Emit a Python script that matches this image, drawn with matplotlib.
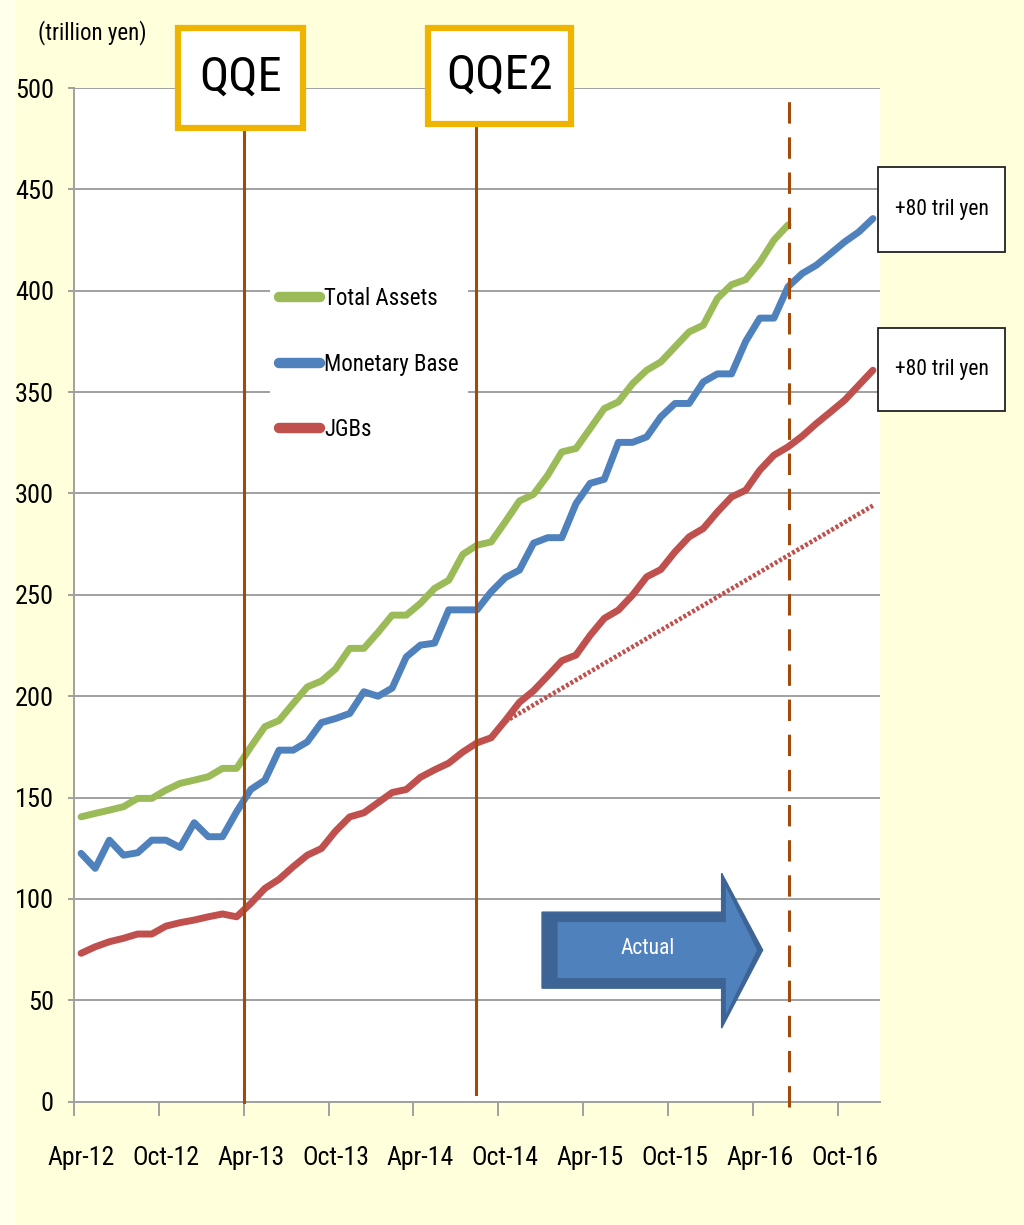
import matplotlib
matplotlib.use("Agg")
import matplotlib.pyplot as plt
from matplotlib.patches import Rectangle, Polygon
import numpy as np

plt.rcParams["font.family"] = ["Roboto Condensed", "Liberation Sans Narrow",
                               "Liberation Sans", "DejaVu Sans"]

# Monthly balances (trillion yen); index 0 = Apr-12, one value per month
total_assets = [
    140.5, 142.2, 143.8, 145.5, 149.6, 149.6, 153.7, 157.0, 158.6, 160.3,
    164.4, 164.4, 175.0, 185.0, 188.0, 196.4, 204.6, 207.5, 213.5, 223.6,
    223.6, 231.5, 240.0, 240.0, 245.8, 253.2, 257.2, 270.0, 274.5, 276.1,
    286.0, 296.3, 299.6, 309.0, 320.5, 322.2, 332.0, 341.9, 345.2, 354.2,
    360.8, 364.9, 372.3, 379.7, 383.0, 396.2, 403.0, 405.5, 414.0, 425.0,
    432.5,
]
monetary_base = [
    122.5, 115.1, 129.0, 121.6, 122.8, 129.0, 129.0, 125.4, 137.6, 130.7,
    130.7, 143.0, 154.0, 158.6, 173.4, 173.4, 177.5, 187.0, 189.0, 191.5,
    202.2, 200.0, 204.0, 219.4, 225.2, 226.2, 242.6, 242.6, 242.6, 251.5,
    258.5, 262.2, 275.5, 278.2, 278.2, 295.0, 305.0, 307.0, 325.2, 325.2,
    327.9, 337.8, 344.4, 344.4, 355.0, 359.0, 359.0, 375.0, 386.5, 386.5,
    402.0, 408.5, 412.6, 418.3, 424.1, 429.0, 435.6,
]
jgbs = [
    73.2, 76.4, 78.9, 80.6, 82.7, 82.7, 86.6, 88.3, 89.6, 91.2,
    92.6, 91.2, 97.8, 105.2, 109.7, 115.9, 121.6, 124.9, 133.5, 140.5,
    142.5, 147.5, 152.5, 154.0, 160.0, 163.7, 167.0, 172.5, 177.0, 179.5,
    188.0, 197.0, 202.7, 210.0, 217.5, 220.3, 230.0, 238.4, 242.5, 249.9,
    258.9, 262.5, 271.2, 278.6, 282.7, 290.9, 298.3, 301.6, 311.5, 318.9,
    323.0, 328.3, 334.5, 340.2, 346.0, 353.4, 360.8,
]
# JGB holdings at the earlier (pre-Oct-14) pace: start and end month index
jgb_prior_pace_idx = [30, 56]
jgb_prior_pace = [187.5, 294.0]

tick_labels = ["Apr-12", "Oct-12", "Apr-13", "Oct-13", "Apr-14",
               "Oct-14", "Apr-15", "Oct-15", "Apr-16", "Oct-16"]
series_names = ["Total Assets", "Monetary Base", "JGBs"]

# Event markers on the month axis (0 = start of Apr-12)
qqe_month = 12.0
qqe2_month = 28.45
actual_end_month = 50.58

GREEN, BLUE, RED = "#9BBB59", "#4F81BD", "#C0504D"
EVENT = "#A24A08"
GRID = "#A0A0A0"
BG = "#FFFFDC"

W, H = 1024, 1225
fig = plt.figure(figsize=(W / 100, H / 100), dpi=100, facecolor=BG)


def fbox(x0, y0, x1, y1):
    """Pixel box (top-left origin) -> figure-fraction (x, y, w, h)."""
    return x0 / W, 1 - y1 / H, (x1 - x0) / W, (y1 - y0) / H


# lighter strip along the left edge of the slide
fig.patches.append(Rectangle((0, 0), 15 / W, 1, transform=fig.transFigure,
                             facecolor="#FFFFEC", edgecolor="none", zorder=0))

ax = fig.add_axes(fbox(74, 88, 880, 1101.7))
ax.set_facecolor("white")
ax.set_xlim(0, 57)
ax.set_ylim(0, 500)

# series are plotted at the centre of each month
x_ta = np.arange(len(total_assets)) + 0.5
x_mb = np.arange(len(monetary_base)) + 0.5
x_jg = np.arange(len(jgbs)) + 0.5

ax.plot(np.array(jgb_prior_pace_idx) + 0.5, jgb_prior_pace, color=RED, lw=3.3,
        dashes=(0.65, 0.45), dash_capstyle="butt", zorder=2.5)
line_kw = dict(lw=5.0, solid_joinstyle="round", solid_capstyle="round", zorder=3)
ax.plot(x_ta, total_assets, color=GREEN, label=series_names[0], **line_kw)
ax.plot(x_mb, monetary_base, color=BLUE, label=series_names[1], **line_kw)
ax.plot(x_jg, jgbs, color=RED, label=series_names[2], **line_kw)

# policy event lines
ax.plot([qqe_month, qqe_month], [0, 478.5], color=EVENT, lw=2.2, zorder=4,
        clip_on=False)
ax.plot([qqe2_month, qqe2_month], [4, 480.5], color=EVENT, lw=2.2, zorder=4,
        clip_on=False)
ax.plot([actual_end_month, actual_end_month], [-2.5, 497], color=EVENT, lw=2.2,
        dashes=(7, 4.5), zorder=4, clip_on=False)

# axes styling
ax.set_yticks(np.arange(0, 501, 50))
ax.yaxis.grid(True, color=GRID, lw=1.4)
ax.set_axisbelow(True)
for side in ("top", "right"):
    ax.spines[side].set_visible(False)
for side in ("left", "bottom"):
    ax.spines[side].set_color(GRID)
    ax.spines[side].set_linewidth(1.4)
ax.tick_params(axis="y", length=4.5, width=1.4, color=GRID, pad=10,
               labelsize=19)
ax.set_xticks(np.arange(0, 55, 6))
ax.set_xticks(np.arange(0, 55, 6) + 0.5, minor=True)
ax.set_xticklabels(tick_labels, minor=True)
ax.tick_params(axis="x", which="major", length=10, width=1.4, color=GRID,
               labelbottom=False)
ax.tick_params(axis="x", which="minor", length=0, pad=32, labelsize=18.5)

# legend
leg = ax.legend(loc="upper left", bbox_to_anchor=(0.243, 0.8125),
                fontsize=16.5, frameon=True, facecolor="white",
                edgecolor="none", framealpha=1, fancybox=False,
                handlelength=1.8, handletextpad=0.18, labelspacing=1.85,
                borderpad=0.4, borderaxespad=0)
for h in leg.get_lines():
    h.set_linewidth(7.5)
    h.set_solid_capstyle("round")

# "Actual" block arrow
outer = [(33.1, 93.5), (45.8, 93.5), (45.8, 112.7), (48.7, 74.8),
         (45.8, 36.3), (45.8, 56.0), (33.1, 56.0)]
inner = [(34.2, 88.6), (46.1, 88.6), (46.1, 106.0), (48.3, 74.8),
         (46.1, 43.0), (46.1, 61.0), (34.2, 61.0)]
ax.add_patch(Polygon(outer, closed=True, facecolor="#3D6494",
                     edgecolor="#3D6494", lw=1, zorder=5))
ax.add_patch(Polygon(inner, closed=True, facecolor="#4F81BD",
                     edgecolor="none", zorder=5.1))
ax.text(40.6, 75.8, "Actual", color="white", fontsize=15.5, ha="center",
        va="center", zorder=6)

# unit label
fig.text(38 / W, 1 - 33 / H, "(trillion yen)", fontsize=16.5, ha="left",
         va="center")

# programme boxes
for (x0, y0, x1, y1), name in [((178, 28, 303, 128), "QQE"),
                               ((428, 28, 571, 124), "QQE2")]:
    fig.patches.append(Rectangle(fbox(x0, y0, x1, y1)[:2],
                                 *fbox(x0, y0, x1, y1)[2:],
                                 transform=fig.transFigure, facecolor="white",
                                 edgecolor="#EEB400", lw=4.5, zorder=5))
    fig.text((x0 + x1) / 2 / W, 1 - (y0 + y1) / 2 / H, name, fontsize=35,
             ha="center", va="center", zorder=6)

# annual increase boxes
for (x0, y0, x1, y1) in [(878, 167, 1005, 252), (878, 328, 1005, 411)]:
    fig.patches.append(Rectangle(fbox(x0, y0, x1, y1)[:2],
                                 *fbox(x0, y0, x1, y1)[2:],
                                 transform=fig.transFigure, facecolor="white",
                                 edgecolor="#222222", lw=1.3, zorder=5))
    fig.text((x0 + x1) / 2 / W, 1 - (y0 + y1) / 2 / H, "+80 tril yen",
             fontsize=15.5, ha="center", va="center", zorder=6)

fig.savefig("out.png", dpi=100, facecolor=BG)
